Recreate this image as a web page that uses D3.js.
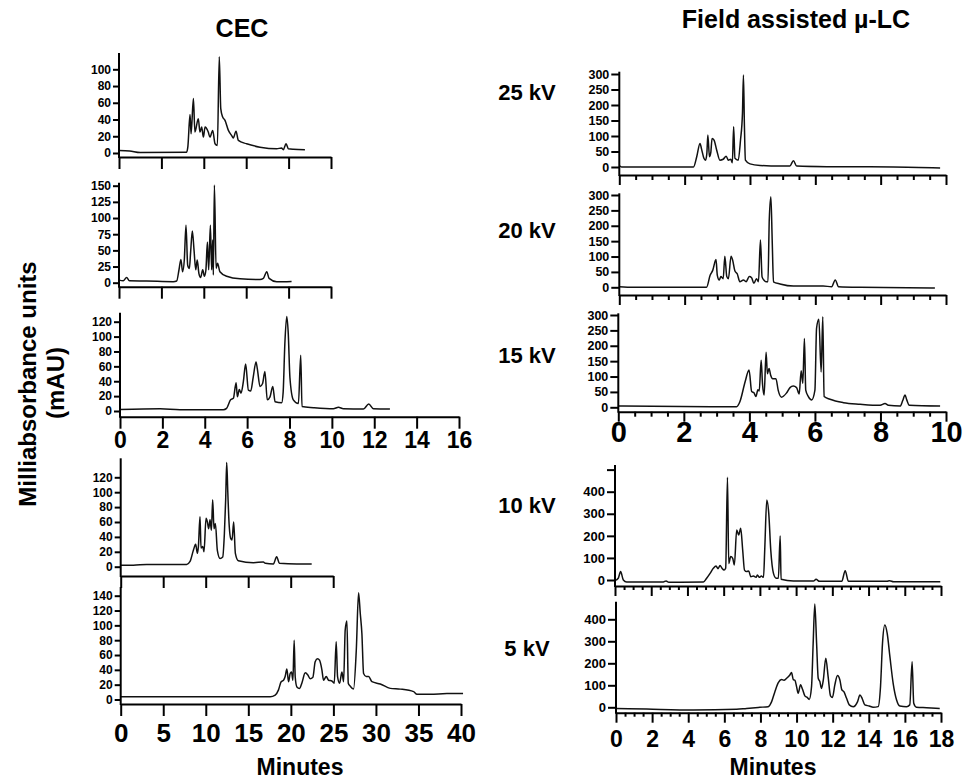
<!DOCTYPE html>
<html><head><meta charset="utf-8">
<script src="https://cdn.jsdelivr.net/npm/d3@7"></script>
<style>
body{margin:0;background:#fff}
svg{display:block}
text{font-family:'Liberation Sans',Arial,Helvetica,sans-serif;font-weight:bold;fill:#000}
</style>
</head><body>
<svg id="c" width="964" height="780"></svg>
<script>
// ---------- DATA (minutes, mAU) ----------
const cec25 = [[0,3],[0.5,2.4],[1,0.5],[3.19,1],[3.25,8],[3.35,46],[3.4,23],[3.51,65],[3.58,25],[3.74,41],[3.82,25],[3.9,31],[3.98,19],[4.06,31],[4.21,25],[4.29,19],[4.42,27],[4.53,11],[4.64,9],[4.73,115],[4.8,53],[4.89,43],[5.0,39],[5.16,27],[5.31,21],[5.39,18],[5.52,26],[5.63,15],[6.02,11],[6.65,7],[7.44,5],[7.67,6],[7.75,4],[7.88,11],[7.99,5],[8.22,4.4],[8.77,4]];
const cec20 = [[0,4],[0.2,3],[0.36,8],[0.49,3],[1.3,2.6],[2.56,1.5],[2.72,2.6],[2.83,20],[2.92,36],[3.0,17],[3.08,35],[3.16,89],[3.24,27],[3.32,22],[3.38,48],[3.46,80],[3.54,50],[3.62,20],[3.69,35],[3.77,14],[3.85,8],[3.95,20],[4.03,10],[4.1,20],[4.17,63],[4.23,20],[4.31,89],[4.37,20],[4.42,66],[4.45,12],[4.5,151],[4.58,22],[4.65,30],[4.76,17],[5.08,10],[5.71,6],[6.65,5],[6.81,6.7],[6.97,17],[7.08,6.7],[7.44,1.5],[8.14,2]];
const cec15 = [[0,2],[1.89,3],[2.83,1.8],[4.88,1.8],[5.03,3.6],[5.22,15],[5.35,17],[5.48,38],[5.54,19],[5.63,29],[5.71,24],[5.82,39],[5.93,63],[6.06,28],[6.17,27],[6.29,46],[6.42,66],[6.48,57],[6.61,33],[6.73,37],[6.84,53],[6.95,15],[7.08,19],[7.21,33],[7.32,12.5],[7.63,11],[7.7,25],[7.78,90],[7.87,127],[7.94,105],[8.02,45],[8.18,15],[8.42,10],[8.53,75],[8.59,6],[9.13,4.5],[10.07,3],[10.31,5],[10.54,3],[11.49,2.7],[11.74,9.4],[11.96,3],[12.74,2.7]];
const cec10 = [[0,2],[1.49,2],[3.06,3],[7.76,3],[8.16,7],[8.55,22],[8.82,30],[9.02,18],[9.14,27],[9.33,67],[9.45,25],[9.65,27],[9.8,20],[10.04,65],[10.2,60],[10.35,51],[10.51,63],[10.67,49],[10.82,90],[10.98,51],[11.14,58],[11.37,22],[11.69,11],[12.0,13],[12.2,45],[12.35,90],[12.47,140],[12.6,100],[12.71,67],[12.94,38],[13.1,36],[13.29,60],[13.49,18],[13.84,8],[15.61,5.4],[16.78,6.3],[17.02,4.5],[17.96,3.6],[18.35,13.4],[18.67,4.5],[20.71,3.6],[22.47,3.6]];
const cec5 = [[0,3.8],[17.57,3.8],[18.16,6],[18.55,13],[18.86,24],[19.14,26],[19.33,31],[19.53,41],[19.73,24],[19.92,35],[20.08,37],[20.24,26],[20.39,80],[20.51,31],[20.71,17],[21.02,15],[21.29,22],[21.69,36],[22.0,33],[22.27,28],[22.59,30],[22.86,51],[23.14,55],[23.37,53],[23.65,40],[23.84,26],[24.16,31],[24.43,26],[24.82,25],[25.1,22],[25.33,78],[25.49,31],[25.73,22],[26.0,37],[26.2,24],[26.39,94],[26.59,106],[26.75,22],[26.98,18],[27.37,14],[27.69,66],[27.96,144],[28.16,116],[28.35,89],[28.55,35],[28.86,31],[29.14,31],[29.53,24],[30.51,21],[31.69,15],[32.86,14],[34.43,10.6],[34.82,7],[36.39,7],[38.35,8],[40.24,8]];
const falc25 = [[0,5],[0.07,0],[2.27,0],[2.37,33],[2.47,76],[2.52,57],[2.59,28],[2.64,22],[2.68,44],[2.71,103],[2.76,33],[2.8,46],[2.84,92],[2.9,87],[2.98,55],[3.08,22],[3.18,25],[3.27,35],[3.34,22],[3.41,25],[3.46,14],[3.5,130],[3.54,28],[3.64,22],[3.71,87],[3.77,173],[3.8,297],[3.83,130],[3.86,22],[4.0,10],[4.31,5],[4.92,3],[5.22,3],[5.33,20],[5.43,3],[6.35,1],[8.39,0],[9.82,-3]];
const falc20 = [[0,2],[0.43,0],[2.67,0],[2.78,39],[2.86,55],[2.96,90],[3.0,39],[3.06,24],[3.11,35],[3.18,28],[3.23,101],[3.29,35],[3.34,28],[3.42,101],[3.47,88],[3.54,53],[3.61,44],[3.69,18],[3.8,24],[3.88,18],[3.98,35],[4.05,31],[4.12,13],[4.2,28],[4.26,18],[4.32,154],[4.37,34],[4.43,23],[4.49,18],[4.55,18],[4.59,218],[4.64,294],[4.68,153],[4.72,18],[4.92,11],[5.33,4],[6.24,4],[6.5,2],[6.61,24],[6.71,2],[7.37,0],[9.66,-2]];
const falc15 = [[0,4],[3.61,2],[3.71,18],[3.87,83],[3.99,121],[4.07,51],[4.14,47],[4.2,35],[4.26,57],[4.3,53],[4.36,153],[4.4,77],[4.45,40],[4.51,179],[4.55,109],[4.6,126],[4.65,104],[4.71,93],[4.81,93],[4.88,55],[4.98,33],[5.13,46],[5.24,64],[5.34,69],[5.44,64],[5.52,43],[5.58,119],[5.63,78],[5.68,224],[5.72,56],[5.8,35],[5.9,24],[6.0,56],[6.05,257],[6.12,286],[6.19,115],[6.24,294],[6.28,35],[6.46,26],[6.87,15],[7.38,10],[7.99,6.5],[8.14,12],[8.24,6.5],[8.6,4],[8.68,22],[8.75,40],[8.8,25],[8.88,6.5],[9.82,4]];
const falc10 = [[0,-3],[0.18,8],[0.31,38],[0.46,0],[0.64,-9],[2.67,-9],[2.82,-4],[2.97,-10],[4.88,-9],[5.06,8],[5.25,30],[5.43,53],[5.58,63],[5.69,51],[5.8,66],[5.91,53],[6.02,45],[6.11,53],[6.21,465],[6.28,75],[6.39,106],[6.5,98],[6.59,68],[6.72,226],[6.83,204],[6.94,234],[7.05,136],[7.15,45],[7.27,38],[7.38,41],[7.5,15],[7.64,18],[7.79,12],[7.86,23],[7.97,12],[8.08,18],[8.2,12],[8.27,143],[8.38,362],[8.49,302],[8.6,136],[8.75,30],[8.9,8],[9.02,8],[9.12,199],[9.17,3],[9.85,-5],[10.96,-5],[11.1,3],[11.29,-6],[12.52,-6],[12.71,42],[12.89,-6],[15.01,-6],[15.16,-3],[15.38,-8],[17.96,-8]];
const falc5 = [[0,-5],[1.7,-8],[4.28,-12],[6.68,-9],[7.23,-5],[7.97,0],[8.43,3],[8.62,26],[8.8,71],[8.99,112],[9.17,126],[9.3,123],[9.45,132],[9.63,147],[9.72,158],[9.82,126],[9.91,123],[10.0,94],[10.09,64],[10.22,102],[10.33,82],[10.46,52],[10.59,45],[10.7,36],[10.83,94],[10.92,291],[11.01,470],[11.11,291],[11.2,132],[11.29,117],[11.38,86],[11.48,123],[11.62,223],[11.75,138],[11.88,52],[11.99,45],[12.12,102],[12.27,144],[12.4,124],[12.51,79],[12.62,71],[12.77,41],[12.92,11],[13.14,3],[13.38,26],[13.51,56],[13.63,41],[13.78,11],[14.02,6],[14.24,0],[14.52,3],[14.65,94],[14.76,291],[14.89,374],[15.02,336],[15.17,230],[15.35,109],[15.54,33],[15.72,6],[16.09,3],[16.27,11],[16.4,207],[16.49,18],[16.64,0],[17.2,-2],[17.93,-5]];

// ---------- TICKS / LABELS ----------
const xTicksCecShort = [0,2,4,6,8,10];
const xTicksCec16 = [0,2,4,6,8,10,12,14,16];
const xTicksCec25 = [0,5,10,15,20,25];
const xTicksCec40 = [0,5,10,15,20,25,30,35,40];
const xTicksFalc10 = [0,2,4,6,8,10];
const xTicksFalc18 = [0,2,4,6,8,10,12,14,16,18];
const yTicks100 = [0,20,40,60,80,100];
const yTicks150 = [0,25,50,75,100,125,150];
const yTicks120 = [0,20,40,60,80,100,120];
const yTicks140 = [0,20,40,60,80,100,120,140];
const yTicks300 = [0,50,100,150,200,250,300];
const yTicks500 = [0,100,200,300,400,500];
const yTicks400 = [0,100,200,300,400];
const voltages = ["25 kV","20 kV","15 kV","10 kV","5 kV"];
const titles = ["CEC","Field assisted \u00b5-LC"];
const yTitle = ["Milliabsorbance units","(mAU)"];
const xTitle = "Minutes";

// ---------- LAYOUT ----------
const L = {yTick:6, yFont:12, xTick:12};
const R = {yTick:8, yFont:12.5, xTick:10, minor:5};
const panels = [
 {data:cec25, xr:[119,331], xd:[0,10], xt:xTicksCecShort, y0:153, yv:100, yp:69.3, ax:157, top:53, yt:yTicks100, s:L},
 {data:cec20, xr:[119,331], xd:[0,10], xt:xTicksCecShort, y0:282.7, yv:150, yp:185.7, ax:286.7, top:182.7, yt:yTicks150, s:L},
 {data:cec15, xr:[120,459], xd:[0,16], xt:xTicksCec16, y0:411, yv:120, yp:321.7, ax:416.7, top:312.7, yt:yTicks120, s:L, lab:{size:23, base:31}},
 {data:cec10, xr:[120.7,333.2], xd:[0,25], xt:xTicksCec25, y0:566.7, yv:120, yp:477.3, ax:576, top:458.3, yt:yTicks120, s:L},
 {data:cec5, xr:[120.7,461], xd:[0,40], xt:xTicksCec40, y0:699.5, yv:140, yp:595.7, ax:704, top:587, yt:yTicks140, s:L, lab:{size:26, base:38}},
 {data:falc25, xr:[619.3,946], xd:[0,10], xt:xTicksFalc10, minor:0.5, y0:167, yv:300, yp:74, ax:175, top:71.7, yt:yTicks300, s:R},
 {data:falc20, xr:[619.3,946], xd:[0,10], xt:xTicksFalc10, minor:0.5, y0:287.3, yv:300, yp:195, ax:295, top:193.3, yt:yTicks300, s:R},
 {data:falc15, xr:[618.3,946], xd:[0,10], xt:xTicksFalc10, minor:0.5, y0:407.3, yv:300, yp:315, ax:411.7, top:313.3, yt:yTicks300, s:R, lab:{size:29, base:30}},
 {data:falc10, xr:[615,941], xd:[0,18], xt:xTicksFalc18, minor:0.5, y0:580, yv:400, yp:491.7, ax:586, top:465, yt:yTicks500, hideTop:true, s:{yTick:8, yFont:13, xTick:10, minor:4}},
 {data:falc5, xr:[616,941], xd:[0,18], xt:xTicksFalc18, minor:0.5, y0:707.3, yv:400, yp:619.3, ax:712.7, top:601.7, yt:yTicks400, s:{yTick:8, yFont:13, xTick:10, minor:4}, lab:{size:23, base:34}}
];

const svg = d3.select("#c");

panels.forEach(p => {
  const x = d3.scaleLinear().domain(p.xd).range(p.xr);
  const y = d3.scaleLinear().domain([0, p.yv]).range([p.y0, p.yp]);
  const g = svg.append("g");

  // trace
  g.append("path").datum(p.data)
    .attr("fill","none").attr("stroke","#111").attr("stroke-width",1.5)
    .attr("stroke-linejoin","round")
    .attr("d", d3.line().x(d=>x(d[0])).y(d=>y(d[1])).curve(d3.curveMonotoneX));

  // y axis
  const yAx = d3.axisLeft(y).tickValues(p.yt).tickSize(p.s.yTick).tickSizeOuter(0)
     .tickFormat(d => (p.hideTop && d === p.yt[p.yt.length-1]) ? "" : d);
  const yg = g.append("g").attr("transform",`translate(${p.xr[0]},0)`).call(yAx);
  yg.select(".domain").remove();
  yg.selectAll(".tick line").attr("stroke","#000").attr("stroke-width",2);
  yg.selectAll(".tick text").attr("font-size",p.s.yFont).attr("x",-(p.s.yTick+2))
    .style("font-family","'Liberation Sans',Arial,sans-serif").style("font-weight","bold");
  g.append("line").attr("x1",p.xr[0]).attr("x2",p.xr[0]).attr("y1",p.ax+1).attr("y2",p.top)
    .attr("stroke","#000").attr("stroke-width",2);

  // x axis (major)
  const xAx = d3.axisBottom(x).tickValues(p.xt).tickSize(p.s.xTick).tickSizeOuter(0)
     .tickFormat(p.lab ? d3.format("d") : "");
  const xg = g.append("g").attr("transform",`translate(0,${p.ax})`).call(xAx);
  xg.select(".domain").attr("stroke","#000").attr("stroke-width",2);
  xg.selectAll(".tick line").attr("stroke","#000").attr("stroke-width",2);
  if (p.lab) {
    xg.selectAll(".tick text").attr("font-size",p.lab.size).attr("dy",null).attr("y",p.lab.base)
      .style("font-family","'Liberation Sans',Arial,sans-serif").style("font-weight","bold");
  } else {
    xg.selectAll(".tick text").remove();
  }
  // minor ticks
  if (p.minor) {
    const minors = d3.range(p.xd[0], p.xd[1] + 1e-9, p.minor).filter(v => !p.xt.includes(v));
    const mAx = d3.axisBottom(x).tickValues(minors).tickSize(p.s.minor).tickSizeOuter(0).tickFormat("");
    const mg = g.append("g").attr("transform",`translate(0,${p.ax})`).call(mAx);
    mg.select(".domain").remove();
    mg.selectAll(".tick line").attr("stroke","#000").attr("stroke-width",2);
  }
});

// titles
svg.append("text").attr("x",242).attr("y",37).attr("text-anchor","middle").attr("font-size",25).text(titles[0]);
svg.append("text").attr("x",796).attr("y",28).attr("text-anchor","middle").attr("font-size",25).text(titles[1]);

// voltage labels
const vY = [100, 238, 363, 513, 656];
voltages.forEach((v,i) => {
  svg.append("text").attr("x",527).attr("y",vY[i]).attr("text-anchor","middle").attr("font-size",22).text(v);
});

// y title
svg.append("text").attr("transform","translate(36,384) rotate(-90)").attr("text-anchor","middle").attr("font-size",24).text(yTitle[0]);
svg.append("text").attr("transform","translate(64,383) rotate(-90)").attr("text-anchor","middle").attr("font-size",24).text(yTitle[1]);

// x titles
svg.append("text").attr("x",300).attr("y",775).attr("text-anchor","middle").attr("font-size",23).text(xTitle);
svg.append("text").attr("x",773).attr("y",775).attr("text-anchor","middle").attr("font-size",23).text(xTitle);
</script>
</body></html>
